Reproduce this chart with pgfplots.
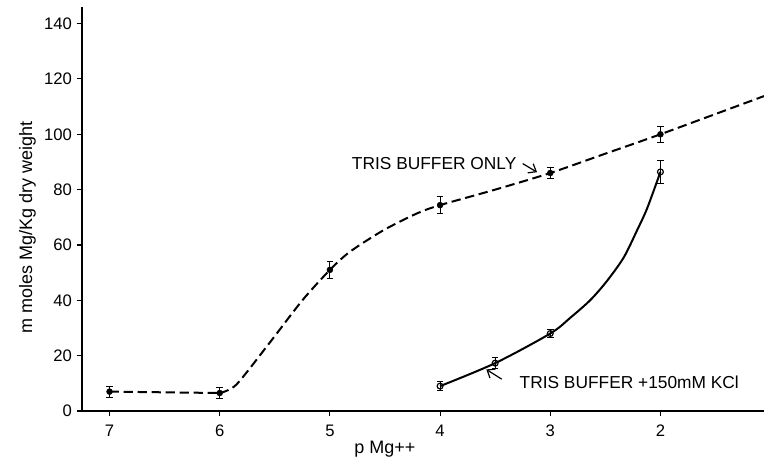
\documentclass[border=0pt]{standalone}
\usepackage{pgfplots}
\pgfplotsset{compat=1.18}
\usepackage{fontspec}
\setmainfont{Liberation Sans}
\usetikzlibrary{arrows.meta}
\begin{document}
\begin{tikzpicture}
\begin{axis}[
  scale only axis, width=511.5pt, height=303pt,
  x dir=reverse, xmin=1.06, xmax=7.25, ymin=0, ymax=146,
  axis lines=left, axis line style={-, line width=0.8pt},
  xtick={2,3,4,5,6,7}, ytick={0,20,40,60,80,100,120,140},
  tick align=outside, major tick length=4pt,
  tick style={line width=0.8pt, black},
  ticklabel style={font=\fontsize{12.5}{14}\selectfont},
  xticklabel style={yshift=-3pt},
  /pgf/number format/assume math mode=true,
  xlabel={p Mg++}, ylabel={m moles Mg/Kg dry weight},
  xlabel style={font=\fontsize{13.5}{16}\selectfont, at={(axis description cs:0.444,0)}, anchor=center, yshift=-29pt},
  ylabel style={font=\fontsize{13.5}{16}\selectfont, at={(axis description cs:-0.08,0.455)}, anchor=center},
]
% dashed curve (Tris buffer only)
\addplot[black, line width=1.5pt, dash pattern=on 7pt off 3.5pt] coordinates {(7,7) (6,6.5)};
\addplot[black, line width=1.5pt, dash pattern=on 7pt off 3.5pt, smooth, tension=0.45] coordinates {
 (6,6.5) (5.85,9.5) (5.55,24.5) (5.25,40) (5,51) (4.82,57.5) (4.515,65.3) (4.21,71.4) (4,74.4) (3.5,80) (3,86) (2.5,93) (2,100) (1.06,113.8)};
% solid curve (Tris buffer + 150 mM KCl)
\addplot[black, line width=1.5pt, smooth, tension=0.5] coordinates {
 (4,9) (3.5,17.3) (3,28) (2.818,33.7) (2.636,40.1) (2.485,47) (2.333,55.5) (2.212,65.3) (2.121,73.2) (2,86.4)};
% data points
\addplot[only marks, mark=*, mark size=2.2pt, black,
  error bars/.cd, y dir=both, y explicit,
  error mark options={rotate=90, mark size=2.5pt, line width=0.7pt},
  error bar style={line width=0.7pt}] coordinates {
 (7,7) +- (0,2) (6,6.5) +- (0,2) (5,51) +- (0,3) (4,74.4) +- (0,3) (3,86) +- (0,2) (2,100) +- (0,3)};
\addplot[only marks, mark=o, mark size=2.2pt, black, mark options={fill=white, line width=0.9pt},
  error bars/.cd, y dir=both, y explicit,
  error mark options={rotate=90, mark size=2.5pt, line width=0.7pt},
  error bar style={line width=0.7pt}] coordinates {
 (4,9) +- (0,1.5) (3.5,17.3) +- (0,2) (3,28) +- (0,1.5) (2,86.4) +- (0,4)};
% annotations
\node[font=\fontsize{13}{15}\selectfont, anchor=east] at (axis cs:3.265,89.6) {TRIS BUFFER ONLY};
\draw[-{Straight Barb[length=5pt,width=8pt]}, line width=0.9pt] (axis cs:3.25,89.4) -- (axis cs:3.12,86.3);
\node[font=\fontsize{13}{15}\selectfont, anchor=west] at (axis cs:3.32,10.3) {TRIS BUFFER +150mM KCl};
\draw[-{Straight Barb[length=5pt,width=8pt]}, line width=0.9pt] (axis cs:3.44,11.5) -- (axis cs:3.58,15);
\end{axis}
\pgfresetboundingbox
\path (current axis.south west) ++(-61.5pt,-41.25pt) coordinate (bl);
\path (current axis.north east) ++(0pt,5.25pt) coordinate (tr);
\path[use as bounding box] (bl) rectangle (tr);
\end{tikzpicture}
\end{document}
